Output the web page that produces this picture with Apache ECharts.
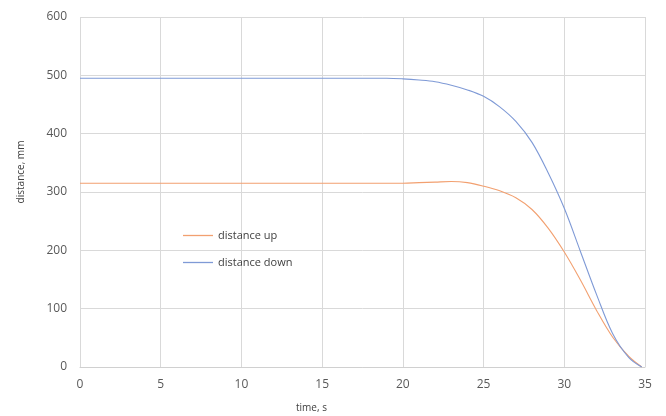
<!DOCTYPE html>
<html>
<head>
<meta charset="utf-8">
<script src="https://cdn.jsdelivr.net/npm/echarts@6/dist/echarts.min.js"></script>
<style>
html,body{margin:0;padding:0;background:#fff;}
#chart{width:666px;height:416px;}
</style>
</head>
<body>
<div id="chart"></div>
<script>
// time, s
var timeUp   = [0,5,10,15,19,20,21,22,23,24,25,26,27,28,29,30,31,32,33,34,34.8];
var distanceUp = [315,315,315,315,315,315,316,317,318,316,310,302,290,270,238,197,149,97,51,18,0];
var timeDown = [0,5,10,15,19,20,21,22,23,24,25,26,27,28,29,30,31,32,33,34,34.8];
var distanceDown = [495,495,495,495,495,494,492,489,483,475,464,446,421,385,333,272,198,124,57,16,0];
var seriesNames = ['distance up','distance down'];
var xTicks = [0,35,5];   // min, max, interval
var yTicks = [0,600,100];
var xTitle = 'time, s';
var yTitle = 'distance, mm';

function zip(a,b){ return a.map(function(v,i){ return [v,b[i]]; }); }

var chart = echarts.init(document.getElementById('chart'), null, {renderer:'canvas'});
chart.setOption({
  animation:false,
  backgroundColor:'#ffffff',
  grid:{left:80,right:21,top:17,bottom:49},
  legend:{
    orient:'vertical',
    left:178, top:225,
    icon:'rect',
    itemWidth:30, itemHeight:1.3, itemGap:16,
    textStyle:{fontSize:11,color:'#404040',fontFamily:'Open Sans'},
    data:seriesNames
  },
  xAxis:{
    type:'value', min:xTicks[0], max:xTicks[1], interval:xTicks[2],
    axisLine:{show:true,lineStyle:{color:'#d0d0d0',width:1}},
    axisTick:{show:false},
    axisLabel:{color:'#595959',fontSize:12,margin:12,fontFamily:'Open Sans'},
    splitLine:{show:true,lineStyle:{color:'#d9d9d9',width:1}}
  },
  yAxis:{
    type:'value', min:yTicks[0], max:yTicks[1], interval:yTicks[2],
    axisLine:{show:false},
    axisTick:{show:false},
    axisLabel:{color:'#595959',fontSize:12,margin:13,fontFamily:'Open Sans'},
    splitLine:{show:true,lineStyle:{color:'#d9d9d9',width:1}}
  },
  graphic:[
    {type:'text', left:296, top:403, style:{text:xTitle, fill:'#404040', font:'10px "Open Sans"'}},
    {type:'text', x:21, y:172, rotation:Math.PI/2, style:{text:yTitle, fill:'#404040', font:'10px "Open Sans"', align:'center', verticalAlign:'middle'}}
  ],
  series:[
    {name:seriesNames[0], type:'line', data:zip(timeUp,distanceUp), symbol:'none', smooth:0.35,
     lineStyle:{color:'#f2a070',width:1.1}, itemStyle:{color:'#f2a070'}},
    {name:seriesNames[1], type:'line', data:zip(timeDown,distanceDown), symbol:'none', smooth:0.35,
     lineStyle:{color:'#7f9ad6',width:1.1}, itemStyle:{color:'#7f9ad6'}}
  ]
});
</script>
</body>
</html>
